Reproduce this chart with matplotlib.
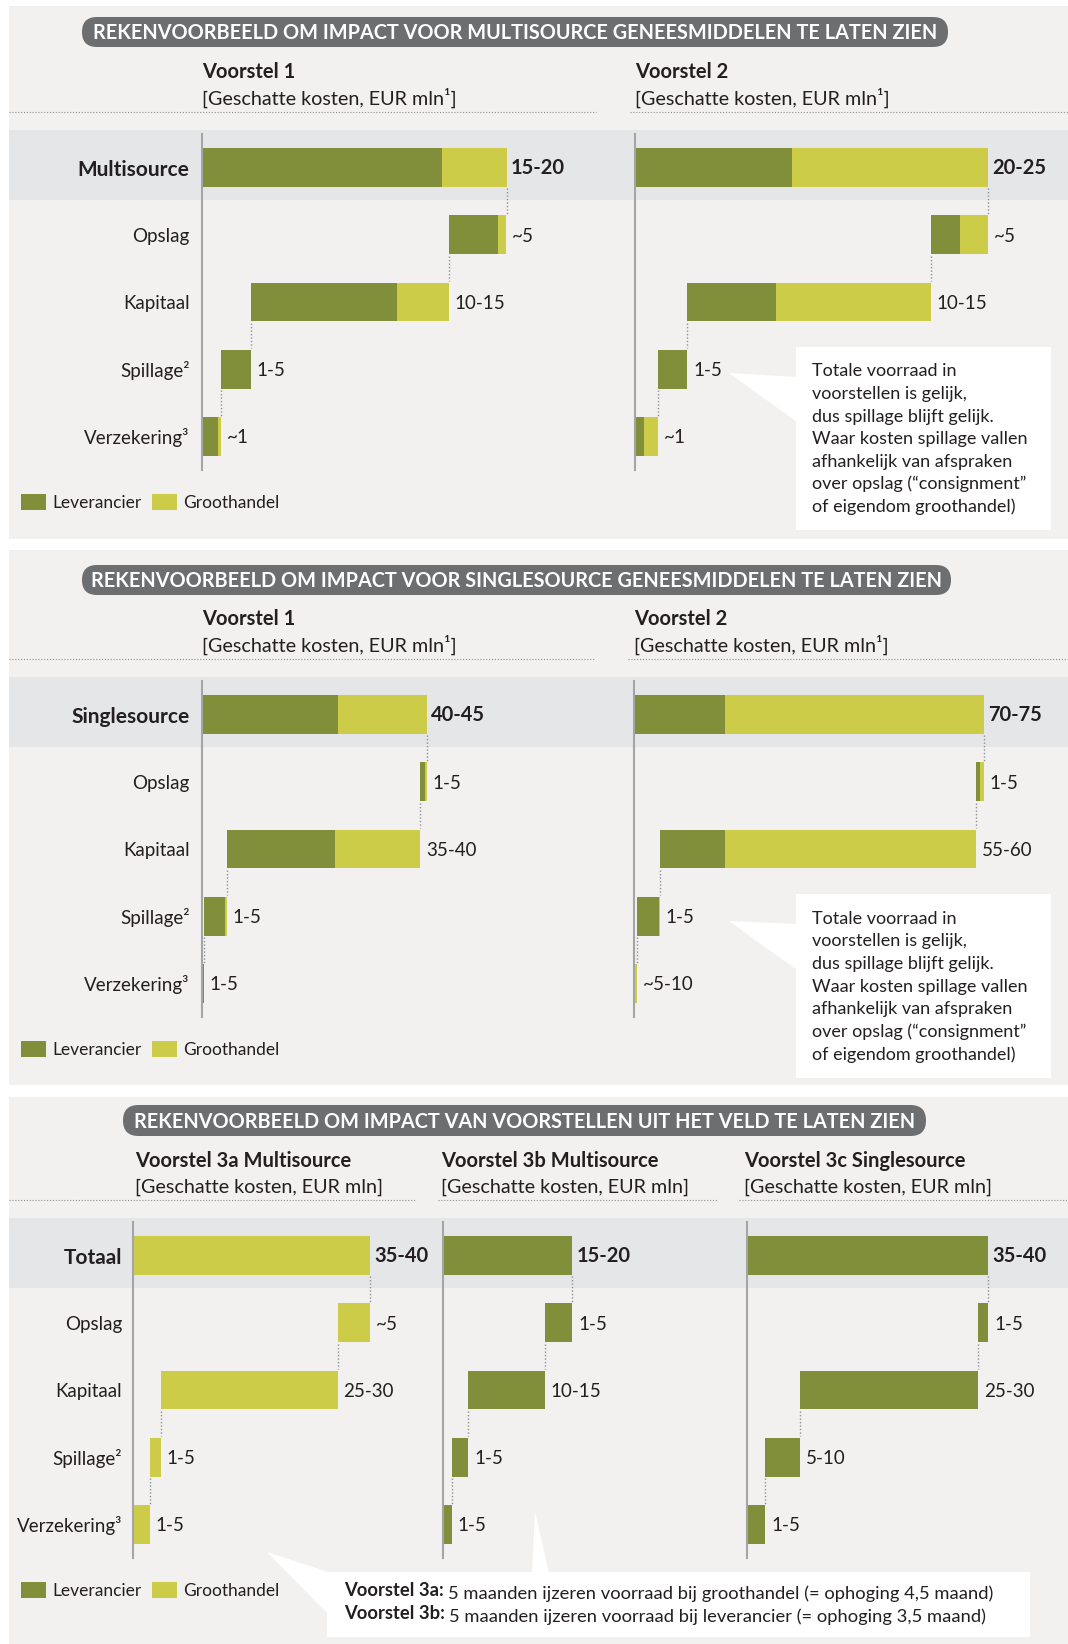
import matplotlib
matplotlib.use("Agg")
import matplotlib.pyplot as plt
from matplotlib.patches import Rectangle, FancyBboxPatch, Polygon

plt.rcParams['font.family'] = ['Lato', 'DejaVu Sans']

# ---- data (EUR mln) ----
# order of components: Opslag, Kapitaal, Spillage, Verzekering
categorieen = ["Opslag", "Kapitaal", "Spillage²", "Verzekering³"]

multi_v1_lev = [2.8, 8.4, 1.7, 0.9]
multi_v1_gro = [0.5, 3.0, 0.0, 0.2]
multi_v1_txt = ["15-20", "~5", "10-15", "1-5", "~1"]

multi_v2_lev = [1.7, 5.1, 1.7, 0.5]
multi_v2_gro = [1.6, 8.9, 0.0, 0.8]
multi_v2_txt = ["20-25", "~5", "10-15", "1-5", "~1"]

single_v1_lev = [1.0, 21.6, 4.2, 0.4]
single_v1_gro = [0.4, 17.0, 0.4, 0.0]
single_v1_txt = ["40-45", "1-5", "35-40", "1-5", "1-5"]

single_v2_lev = [0.8, 13.0, 4.4, 0.0]
single_v2_gro = [0.8, 50.2, 0.2, 0.6]
single_v2_txt = ["70-75", "1-5", "55-60", "1-5", "~5-10"]

veld_3a_lev = [0.0, 0.0, 0.0, 0.0]
veld_3a_gro = [4.9, 27.2, 1.7, 2.6]
veld_3a_txt = ["35-40", "~5", "25-30", "1-5", "1-5"]

veld_3b_lev = [4.2, 11.8, 2.5, 1.4]
veld_3b_gro = [0.0, 0.0, 0.0, 0.0]
veld_3b_txt = ["15-20", "1-5", "10-15", "1-5", "1-5"]

veld_3c_lev = [1.5, 27.4, 5.4, 2.8]
veld_3c_gro = [0.0, 0.0, 0.0, 0.0]
veld_3c_txt = ["35-40", "1-5", "25-30", "5-10", "1-5"]

titels = ["REKENVOORBEELD OM IMPACT VOOR MULTISOURCE GENEESMIDDELEN TE LATEN ZIEN",
          "REKENVOORBEELD OM IMPACT VOOR SINGLESOURCE GENEESMIDDELEN TE LATEN ZIEN",
          "REKENVOORBEELD OM IMPACT VAN VOORSTELLEN UIT HET VELD TE LATEN ZIEN"]

callout_tekst = ["Totale voorraad in", "voorstellen is gelijk,", "dus spillage blijft gelijk.",
                 "Waar kosten spillage vallen", "afhankelijk van afspraken",
                 "over opslag (\u201cconsignment\u201d", "of eigendom groothandel)"]

# ---- style ----
GROEN = "#818E3A"
GEEL = "#CDCC48"
PANEEL = "#F2F1EF"
BAND = "#E5E6E8"
PIL = "#6D6E70"
TEKST = "#231F20"
STIP = "#8E9094"
AS = "#A3A5A8"

W_PX, H_PX = 1068, 1644
ROW = 67.2
AX_W = 400

fig = plt.figure(figsize=(W_PX / 100, H_PX / 100), dpi=100, facecolor="white")
bg = fig.add_axes([0, 0, 1, 1], zorder=0)
bg.set_xlim(0, W_PX)
bg.set_ylim(H_PX, 0)
bg.axis("off")

top = fig.add_axes([0, 0, 1, 1], zorder=5)
top.set_xlim(0, W_PX)
top.set_ylim(H_PX, 0)
top.axis("off")
top.patch.set_alpha(0)


def px_axes(x, y, w, h):
    return fig.add_axes([x / W_PX, 1 - (y + h) / H_PX, w / W_PX, h / H_PX], zorder=1)


def paneel(y0, y1, pil, titel, kop_y, kop_x, koppen, stip_y, stippen, band_y, leg_y):
    bg.add_patch(Rectangle((9, y0), W_PX - 9, y1 - y0, color=PANEEL, lw=0))
    x0, x1, p0, p1 = pil
    h = p1 - p0
    bg.add_patch(FancyBboxPatch((x0, p0), x1 - x0, h,
                                boxstyle="round,pad=0,rounding_size=%f" % (h / 2),
                                fc=PIL, ec="none"))
    bg.text((x0 + x1) / 2, (p0 + p1) / 2 + 1, titel, color="white", fontsize=14.3,
            fontweight="bold", ha="center", va="center")
    for x, (k1, k2) in zip(kop_x, koppen):
        bg.text(x, kop_y, k1, fontsize=14.5, fontweight="bold", color=TEKST, va="center")
        bg.text(x, kop_y + 26, k2, fontsize=14.2, color=TEKST, va="center")
    for a, b in stippen:
        bg.hlines(stip_y, a, b, colors=STIP, lw=0.8, linestyles=(0, (1, 1.6)))
    bg.add_patch(Rectangle((9, band_y[0]), W_PX - 9, band_y[1] - band_y[0], color=BAND, lw=0))
    # legend
    for x, kleur, naam in [(21, GROEN, "Leverancier"), (152, GEEL, "Groothandel")]:
        bg.add_patch(Rectangle((x, leg_y - 8), 25, 16, color=kleur, lw=0))
        bg.text(x + 31, leg_y + 1, naam, fontsize=12.5, color=TEKST, va="center")


def waterval(x0, y_top, lev, gro, txt, totaal_naam, px_per_mln, namen=True, pad=9):
    ax = px_axes(x0, y_top, AX_W, ROW * 5)
    ax.patch.set_alpha(0)
    ax.set_xlim(0, AX_W / px_per_mln)
    ax.set_ylim(4.5, -0.5)
    tot = [l + g for l, g in zip(lev, gro)]
    links = [sum(tot[i + 1:]) for i in range(4)]
    rijen = [0, 1, 2, 3, 4]
    lev_all = [sum(lev)] + lev
    gro_all = [sum(gro)] + gro
    links_all = [0] + links
    ax.barh(rijen, lev_all, left=links_all, height=0.58, color=GROEN, lw=0)
    ax.barh(rijen, gro_all, left=[a + b for a, b in zip(links_all, lev_all)],
            height=0.58, color=GEEL, lw=0)
    verbind = [sum(tot)] + links[:3]
    ax.vlines(verbind, [r + 0.31 for r in range(4)], [r + 0.69 for r in range(4)],
              colors=STIP, lw=1, linestyles=(0, (1, 1.5)))
    for r, t in zip(rijen, txt):
        eind = links_all[r] + lev_all[r] + gro_all[r]
        ax.annotate(t, (eind, r), xytext=(3.2 if r == 0 else 4.2, 1.5 if r == 0 else 0),
                    textcoords="offset points", va="center_baseline", ha="left",
                    fontsize=14.5 if r == 0 else 13.5, color=TEKST,
                    fontweight="bold" if r == 0 else "normal")
    for s in ["top", "right", "bottom"]:
        ax.spines[s].set_visible(False)
    ax.spines["left"].set_color(AS)
    ax.spines["left"].set_linewidth(1.5)
    ax.set_xticks([])
    ax.set_yticks(rijen)
    if namen:
        ax.set_yticklabels([totaal_naam] + categorieen, fontsize=13.5, color=TEKST)
        ax.get_yticklabels()[0].set_fontweight("bold")
        ax.get_yticklabels()[0].set_fontsize(15)
    else:
        ax.set_yticklabels([])
    ax.tick_params(axis="y", length=0, pad=pad)
    return ax


def callout(box, punt, tekst_x, tekst_y0, stap):
    bx0, by0, bx1, by1 = box
    top.add_patch(Polygon(punt, closed=True, fc="white", ec="none"))
    top.add_patch(Rectangle((bx0, by0), bx1 - bx0, by1 - by0, fc="white", ec="none"))
    for i, regel in enumerate(callout_tekst):
        top.text(tekst_x, tekst_y0 + i * stap, regel, fontsize=13.0, color=TEKST,
                 va="center_baseline")


kop12 = [("Voorstel 1", "[Geschatte kosten, EUR mln¹]"),
         ("Voorstel 2", "[Geschatte kosten, EUR mln¹]")]

# ---- panel 1: multisource ----
paneel(6, 539, (82, 948, 17, 47), titels[0], 72, [202, 635], kop12, 112,
       [(9, 596), (630, W_PX)], (130, 200), 502)
waterval(202, 134, multi_v1_lev, multi_v1_gro, multi_v1_txt, "Multisource", 17.4)
waterval(635, 134, multi_v2_lev, multi_v2_gro, multi_v2_txt, "Multisource", 17.4, namen=False)
callout((796, 347, 1051, 530), [(729, 373), (797, 377), (797, 422)], 812, 370, 22.5)

# ---- panel 2: singlesource ----
paneel(550, 1085, (82, 951, 565, 595), titels[1], 619, [202, 634], kop12, 659,
       [(9, 595), (628, W_PX)], (677, 747), 1049)
waterval(202, 681, single_v1_lev, single_v1_gro, single_v1_txt, "Singlesource", 5.0)
waterval(634, 681, single_v2_lev, single_v2_gro, single_v2_txt, "Singlesource", 5.0, namen=False)
callout((796, 894, 1051, 1078), [(729, 921), (797, 924), (797, 970)], 812, 917, 22.7)

# ---- panel 3: voorstellen uit het veld ----
kop3 = [("Voorstel 3a Multisource", "[Geschatte kosten, EUR mln]"),
        ("Voorstel 3b Multisource", "[Geschatte kosten, EUR mln]"),
        ("Voorstel 3c Singlesource", "[Geschatte kosten, EUR mln]")]
paneel(1097, H_PX, (123, 926, 1105, 1136), titels[2], 1161, [135, 441, 744], kop3, 1200,
       [(9, 416), (438, 717), (739, W_PX)], (1218, 1288), 1590)
waterval(133, 1222, veld_3a_lev, veld_3a_gro, veld_3a_txt, "Totaal", 6.5, pad=8)
waterval(443, 1222, veld_3b_lev, veld_3b_gro, veld_3b_txt, "Totaal", 6.5, namen=False)
waterval(747, 1222, veld_3c_lev, veld_3c_gro, veld_3c_txt, "Totaal", 6.5, namen=False)

top.add_patch(Polygon([(267, 1552), (328, 1572), (328, 1614)], closed=True, fc="white", ec="none"))
top.add_patch(Polygon([(535, 1512), (532, 1573), (549, 1573)], closed=True, fc="white", ec="none"))
top.add_patch(Rectangle((327, 1572), 703, 65, fc="white", ec="none"))
for y, vet, rest in [(1596, "Voorstel 3a:", "5 maanden ijzeren voorraad bij groothandel (= ophoging 4,5 maand)"),
                     (1619, "Voorstel 3b:", "5 maanden ijzeren voorraad bij leverancier (= ophoging 3,5 maand)")]:
    t = top.text(344, y, vet, fontsize=13.2, fontweight="bold", color=TEKST, va="baseline")
    top.annotate(rest, xy=(1, 0), xycoords=t, xytext=(3, 0), textcoords="offset points",
                 fontsize=13.2, color=TEKST, va="baseline")

fig.savefig("out.png", dpi=100, facecolor="white")
